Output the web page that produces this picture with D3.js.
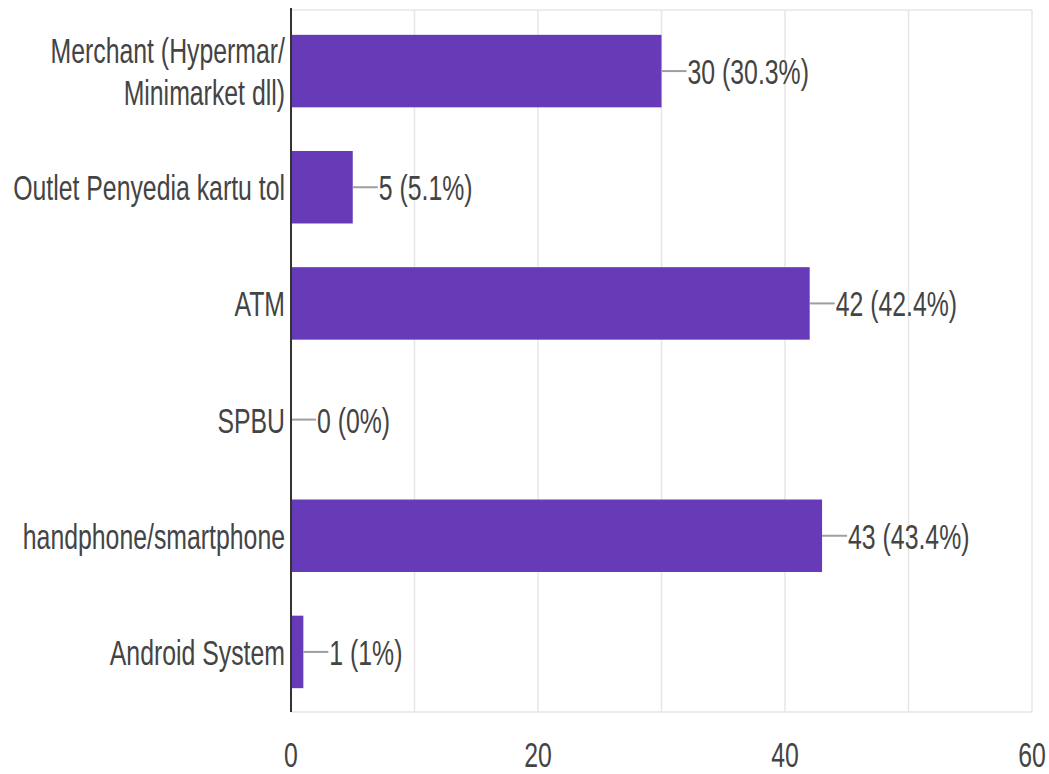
<!DOCTYPE html>
<html>
<head>
<meta charset="utf-8">
<script src="https://cdn.jsdelivr.net/npm/d3@7"></script>
<style>
  html, body { margin: 0; padding: 0; background: #fff; }
  svg { display: block; }
  text { font-family: "Liberation Sans", Arial, sans-serif; }
</style>
</head>
<body>
<svg id="chart" width="1049" height="774"></svg>
<script>
const categories = [
  ["Merchant (Hypermar/", "Minimarket dll)"],
  ["Outlet Penyedia kartu tol"],
  ["ATM"],
  ["SPBU"],
  ["handphone/smartphone"],
  ["Android System"]
];
const counts = [30, 5, 42, 0, 43, 1];
const percents = [30.3, 5.1, 42.4, 0, 43.4, 1];
const tickValues = [0, 20, 40, 60];
const gridValues = [0, 10, 20, 30, 40, 50, 60];

(function () {
const plotLeft = 291, plotRight = 1032, plotTop = 10, plotBottom = 712;
const fontSize = 36, sx = 0.69;
const textColor = "#444";

const svg = d3.select("#chart");
const x = d3.scaleLinear().domain([0, 60]).range([plotLeft, plotRight]);
const y = d3.scaleBand().domain(d3.range(categories.length)).range([13, 710])
  .paddingInner(0.376).paddingOuter(0.188);

// grid lines
svg.append("g").selectAll("line").data(gridValues).join("line")
  .attr("x1", d => x(d)).attr("x2", d => x(d))
  .attr("y1", plotTop).attr("y2", plotBottom)
  .attr("stroke", "#e6e6e6").attr("stroke-width", 1.5);
// top & bottom frame
svg.append("line").attr("x1", plotLeft).attr("x2", plotRight).attr("y1", plotTop).attr("y2", plotTop)
  .attr("stroke", "#e6e6e6").attr("stroke-width", 1.5);
svg.append("line").attr("x1", plotLeft).attr("x2", plotRight).attr("y1", plotBottom).attr("y2", plotBottom)
  .attr("stroke", "#e6e6e6").attr("stroke-width", 1.5);

// bars
svg.append("g").selectAll("rect").data(counts).join("rect")
  .attr("x", x(0))
  .attr("y", (d, i) => y(i))
  .attr("width", d => x(d) - x(0))
  .attr("height", y.bandwidth())
  .attr("fill", "#673ab7");

// connector lines
svg.append("g").selectAll("line").data(counts).join("line")
  .attr("x1", d => x(d)).attr("x2", d => x(d) + 25)
  .attr("y1", (d, i) => y(i) + y.bandwidth() / 2)
  .attr("y2", (d, i) => y(i) + y.bandwidth() / 2)
  .attr("stroke", "#9e9e9e").attr("stroke-width", 2);

// value labels
svg.append("g").selectAll("text").data(counts).join("text")
  .attr("transform", (d, i) => `translate(${x(d) + 26},${y(i) + y.bandwidth() / 2}) scale(${sx},1)`)
  .attr("dy", "0.36em")
  .attr("text-anchor", "start")
  .attr("font-size", fontSize)
  .attr("fill", textColor)
  .text((d, i) => `${d} (${percents[i]}%)`);

// axis line
svg.append("line").attr("x1", plotLeft).attr("x2", plotLeft).attr("y1", 8).attr("y2", plotBottom)
  .attr("stroke", "#333").attr("stroke-width", 2);

// category labels
const catG = svg.append("g").selectAll("text").data(categories).join("text")
  .attr("transform", (d, i) => `translate(285,${y(i) + y.bandwidth() / 2}) scale(${sx},1)`)
  .attr("text-anchor", "end")
  .attr("font-size", fontSize)
  .attr("fill", textColor);
catG.each(function (lines) {
  const t = d3.select(this);
  const lh = 42;
  const off = -(lines.length - 1) * lh / 2;
  lines.forEach((ln, k) => {
    t.append("tspan").attr("x", 0).attr("y", off + k * lh).attr("dy", "0.36em").text(ln);
  });
});

// x tick labels
svg.append("g").selectAll("text").data(tickValues).join("text")
  .attr("transform", d => `translate(${x(d)},767) scale(${sx},1)`)
  .attr("text-anchor", "middle")
  .attr("font-size", fontSize)
  .attr("fill", textColor)
  .text(d => d);
})();
</script>
</body>
</html>
